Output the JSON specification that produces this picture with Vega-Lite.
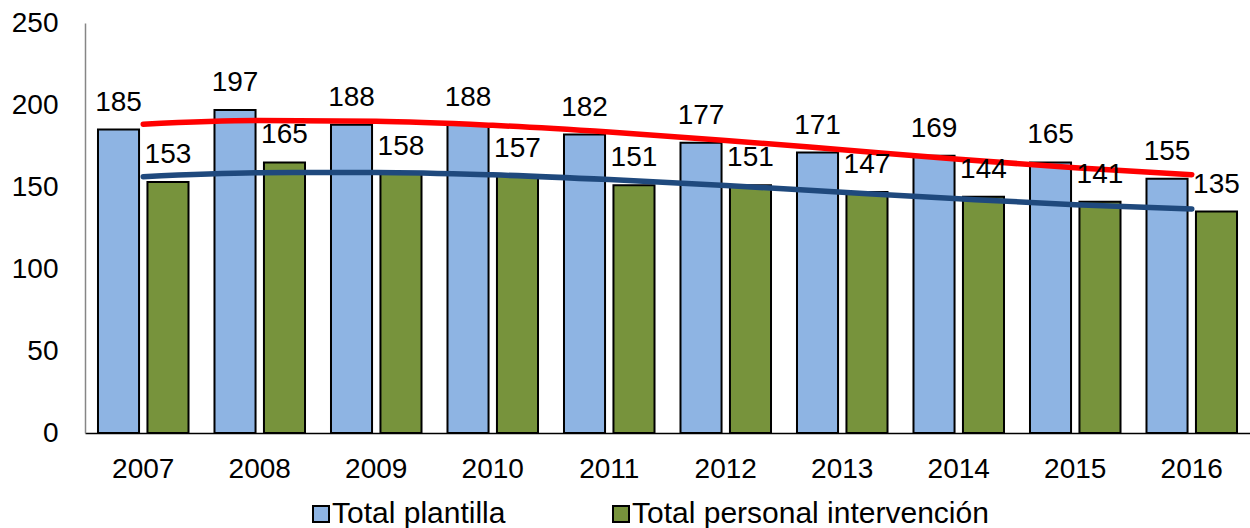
{
  "$schema": "https://vega.github.io/schema/vega-lite/v6.json",
  "autosize": {"type": "none"},
  "padding": {"left": 85, "top": 23, "right": 0, "bottom": 95},
  "width": 1165,
  "height": 410,
  "config": {
    "view": {"stroke": null},
    "font": "Liberation Sans",
    "axis": {"labelFont": "Liberation Sans", "labelColor": "#000000"},
    "legend": {"labelFont": "Liberation Sans"}
  },
  "datasets": {
    "bars": [
      {"anio": "2007", "serie": "Total plantilla", "valor": 185},
      {"anio": "2007", "serie": "Total personal intervención", "valor": 153},
      {"anio": "2008", "serie": "Total plantilla", "valor": 197},
      {"anio": "2008", "serie": "Total personal intervención", "valor": 165},
      {"anio": "2009", "serie": "Total plantilla", "valor": 188},
      {"anio": "2009", "serie": "Total personal intervención", "valor": 158},
      {"anio": "2010", "serie": "Total plantilla", "valor": 188},
      {"anio": "2010", "serie": "Total personal intervención", "valor": 157},
      {"anio": "2011", "serie": "Total plantilla", "valor": 182},
      {"anio": "2011", "serie": "Total personal intervención", "valor": 151},
      {"anio": "2012", "serie": "Total plantilla", "valor": 177},
      {"anio": "2012", "serie": "Total personal intervención", "valor": 151},
      {"anio": "2013", "serie": "Total plantilla", "valor": 171},
      {"anio": "2013", "serie": "Total personal intervención", "valor": 147},
      {"anio": "2014", "serie": "Total plantilla", "valor": 169},
      {"anio": "2014", "serie": "Total personal intervención", "valor": 144},
      {"anio": "2015", "serie": "Total plantilla", "valor": 165},
      {"anio": "2015", "serie": "Total personal intervención", "valor": 141},
      {"anio": "2016", "serie": "Total plantilla", "valor": 155},
      {"anio": "2016", "serie": "Total personal intervención", "valor": 135}
    ],
    "trend": [
      {"anio": "2007", "linea": "Tendencia plantilla", "valor": 188.3},
      {"anio": "2008", "linea": "Tendencia plantilla", "valor": 190.5},
      {"anio": "2009", "linea": "Tendencia plantilla", "valor": 190.1},
      {"anio": "2010", "linea": "Tendencia plantilla", "valor": 187.6},
      {"anio": "2011", "linea": "Tendencia plantilla", "valor": 183.5},
      {"anio": "2012", "linea": "Tendencia plantilla", "valor": 178.4},
      {"anio": "2013", "linea": "Tendencia plantilla", "valor": 172.7},
      {"anio": "2014", "linea": "Tendencia plantilla", "valor": 166.9},
      {"anio": "2015", "linea": "Tendencia plantilla", "valor": 161.7},
      {"anio": "2016", "linea": "Tendencia plantilla", "valor": 157.5},
      {"anio": "2007", "linea": "Tendencia intervención", "valor": 156.3},
      {"anio": "2008", "linea": "Tendencia intervención", "valor": 158.7},
      {"anio": "2009", "linea": "Tendencia intervención", "valor": 158.9},
      {"anio": "2010", "linea": "Tendencia intervención", "valor": 157.4},
      {"anio": "2011", "linea": "Tendencia intervención", "valor": 154.5},
      {"anio": "2012", "linea": "Tendencia intervención", "valor": 150.9},
      {"anio": "2013", "linea": "Tendencia intervención", "valor": 146.8},
      {"anio": "2014", "linea": "Tendencia intervención", "valor": 142.8},
      {"anio": "2015", "linea": "Tendencia intervención", "valor": 139.2},
      {"anio": "2016", "linea": "Tendencia intervención", "valor": 136.6}
    ]
  },
  "encoding": {
    "x": {
      "field": "anio",
      "type": "nominal",
      "scale": {"paddingInner": 0.223, "paddingOuter": 0.1115},
      "axis": {
        "title": null,
        "labelAngle": 0,
        "ticks": false,
        "tickSize": 0,
        "labelPadding": 22,
        "labelFontSize": 28,
        "domainColor": "#000000",
        "domainWidth": 1.5
      }
    },
    "y": {
      "field": "valor",
      "type": "quantitative",
      "scale": {"domain": [0, 250], "nice": false, "zero": true},
      "axis": {
        "title": null,
        "values": [0, 50, 100, 150, 200, 250],
        "grid": false,
        "ticks": false,
        "tickSize": 0,
        "labelPadding": 27,
        "labelFontSize": 28,
        "domainColor": "#868686",
        "domainWidth": 1.5
      }
    }
  },
  "layer": [
    {
      "data": {"name": "bars"},
      "mark": {"type": "bar", "stroke": "#000000", "strokeWidth": 2},
      "encoding": {
        "xOffset": {
          "field": "serie",
          "type": "nominal",
          "sort": ["Total plantilla", "Total personal intervención"],
          "scale": {"paddingInner": 0.17, "paddingOuter": 0}
        },
        "fill": {
          "field": "serie",
          "type": "nominal",
          "sort": ["Total plantilla", "Total personal intervención"],
          "scale": {
            "domain": ["Total plantilla", "Total personal intervención"],
            "range": ["#8EB4E3", "#77933C"]
          },
          "legend": {
            "title": null,
            "orient": "none",
            "direction": "horizontal",
            "legendX": 221,
            "legendY": 476,
            "padding": 0,
            "symbolType": "square",
            "symbolSize": 256,
            "symbolStrokeColor": "#000000",
            "symbolStrokeWidth": 2,
            "labelFontSize": 30,
            "labelColor": "#000000",
            "labelOffset": -4,
            "columnPadding": 100,
            "labelLimit": 500
          }
        }
      }
    },
    {
      "data": {"name": "trend"},
      "mark": {"type": "line", "strokeWidth": 5.5, "strokeCap": "round", "interpolate": "monotone"},
      "encoding": {
        "stroke": {
          "field": "linea",
          "type": "nominal",
          "scale": {
            "domain": ["Tendencia plantilla", "Tendencia intervención"],
            "range": ["#FF0000", "#1F497D"]
          },
          "legend": null
        }
      }
    },
    {
      "data": {"name": "bars"},
      "mark": {"type": "text", "baseline": "alphabetic", "dy": -19, "fontSize": 28, "font": "Liberation Sans", "color": "#000000"},
      "encoding": {
        "xOffset": {
          "field": "serie",
          "type": "nominal",
          "sort": ["Total plantilla", "Total personal intervención"]
        },
        "text": {"field": "valor", "type": "quantitative"}
      }
    }
  ]
}
